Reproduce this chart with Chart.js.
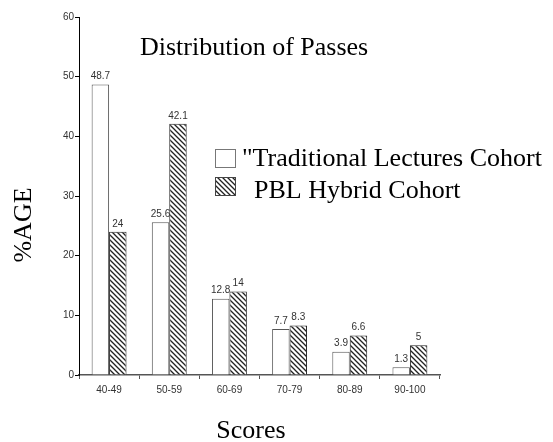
<!DOCTYPE html>
<html>
<head>
<meta charset="utf-8">
<script src="https://cdn.jsdelivr.net/npm/chart.js@4.4.1/dist/chart.umd.min.js"></script>
<style>
  html, body { margin: 0; padding: 0; background: #fff; }
  #wrap { position: relative; width: 553px; height: 442px; }
</style>
</head>
<body>
<div id="wrap"><canvas id="passChart" width="553" height="442"></canvas></div>
<script>
// --- Data ---
const categories = ['40-49', '50-59', '60-69', '70-79', '80-89', '90-100'];
const traditional = [48.7, 25.6, 12.8, 7.7, 3.9, 1.3];
const pblHybrid = [24, 42.1, 14, 8.3, 6.6, 5];
const seriesNames = ['"Traditional Lectures Cohort', 'PBL Hybrid Cohort'];
const yTicks = [0, 10, 20, 30, 40, 50, 60];
const chartTitle = 'Distribution of Passes';
const xTitle = 'Scores';
const yTitle = '%AGE';

const serif = '26px "Liberation Serif", "Times New Roman", serif';

// --- Hatch pattern for the PBL bars ---
function makeHatch() {
    const s = 5;
    const c = document.createElement('canvas');
    c.width = s; c.height = s;
    const g = c.getContext('2d');
    g.fillStyle = '#fff';
    g.fillRect(0, 0, s, s);
    g.strokeStyle = '#222';
    g.lineWidth = 1.3;
    g.beginPath();
    g.moveTo(-1, -1); g.lineTo(s + 1, s + 1);
    g.moveTo(-1, s - 1); g.lineTo(1, s + 1);
    g.moveTo(s - 1, -1); g.lineTo(s + 1, 1);
    g.stroke();
    return g.createPattern(c, 'repeat');
}
const hatch = makeHatch();

// --- Value labels, titles and legend drawn on the canvas ---
const extrasPlugin = {
    id: 'extras',
    afterDatasetsDraw(chart) {
        const ctx = chart.ctx;
        ctx.save();
        ctx.fillStyle = '#333';
        ctx.font = '10px "Liberation Sans", Arial, sans-serif';
        ctx.textAlign = 'center';
        ctx.textBaseline = 'bottom';
        chart.data.datasets.forEach((ds, i) => {
            chart.getDatasetMeta(i).data.forEach((bar, j) => {
                ctx.fillText(String(ds.data[j]), bar.x, bar.y - 3);
            });
        });

        ctx.fillStyle = '#000';
        ctx.font = serif;
        ctx.textBaseline = 'alphabetic';

        // title
        ctx.textAlign = 'left';
        ctx.fillText(chartTitle, 140, 55);

        // axis titles
        ctx.textAlign = 'center';
        ctx.fillText(xTitle, 251, 438);
        ctx.save();
        ctx.translate(31, 225);
        ctx.rotate(-Math.PI / 2);
        ctx.fillText(yTitle, 0, 0);
        ctx.restore();

        // legend
        ctx.textAlign = 'left';
        const rows = [{ y: 149, fill: '#fff', stroke: '#777', tx: 242, base: 166 },
                      { y: 177, fill: hatch, stroke: '#444', tx: 254, base: 198 }];
        rows.forEach((r, i) => {
            ctx.fillStyle = r.fill;
            ctx.fillRect(215, r.y, 20, 19);
            ctx.strokeStyle = r.stroke;
            ctx.lineWidth = 1;
            ctx.strokeRect(215.5, r.y + 0.5, 20, 18);
            ctx.fillStyle = '#000';
            ctx.fillText(seriesNames[i], r.tx, r.base);
        });
        ctx.restore();
    }
};

const ctx = document.getElementById('passChart').getContext('2d');
window.chart = new Chart(ctx, {
    type: 'bar',
    data: {
        labels: categories,
        datasets: [{
            label: seriesNames[0],
            data: traditional,
            backgroundColor: '#fff',
            borderColor: '#555',
            borderWidth: 1,
            categoryPercentage: 0.58,
            barPercentage: 1
        }, {
            label: seriesNames[1],
            data: pblHybrid,
            backgroundColor: hatch,
            borderColor: '#222',
            borderWidth: 1,
            categoryPercentage: 0.58,
            barPercentage: 1
        }]
    },
    options: {
        responsive: false,
        animation: false,
        layout: { padding: { left: 0, right: 113, top: 17, bottom: 0 } },
        plugins: {
            legend: { display: false },
            tooltip: { enabled: false }
        },
        scales: {
            x: {
                afterFit: axis => { axis.height = 67; },
                grid: { display: true, drawOnChartArea: false, offset: true, tickLength: 4, color: '#555' },
                border: { color: '#555', width: 1.5 },
                ticks: { color: '#333', font: { size: 10, family: '"Liberation Sans", Arial' }, padding: 5, maxRotation: 0 }
            },
            y: {
                min: 0, max: 60,
                afterBuildTicks: axis => { axis.ticks = yTicks.map(v => ({ value: v })); },
                afterFit: axis => { axis.width = 79; },
                grid: { display: true, drawOnChartArea: false, tickLength: 4, color: '#000' },
                border: { color: '#000', width: 1 },
                ticks: { color: '#333', font: { size: 10, family: '"Liberation Sans", Arial' }, padding: 1 }
            }
        }
    },
    plugins: [extrasPlugin]
});
</script>
</body>
</html>
